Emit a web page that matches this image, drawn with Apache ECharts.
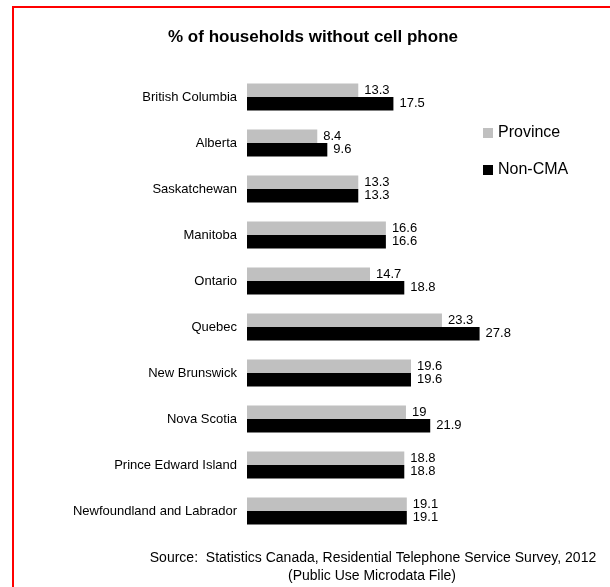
<!DOCTYPE html>
<html>
<head>
<meta charset="utf-8">
<script src="https://cdn.jsdelivr.net/npm/echarts@6/dist/echarts.min.js"></script>
<style>
html,body{margin:0;padding:0;background:#fff;overflow:hidden;}
#chart{width:610px;height:587px;}
</style>
</head>
<body>
<div id="chart"></div>
<script>
const categories = ["British Columbia","Alberta","Saskatchewan","Manitoba","Ontario","Quebec","New Brunswick","Nova Scotia","Prince Edward Island","Newfoundland and Labrador"];
const province = [13.3, 8.4, 13.3, 16.6, 14.7, 23.3, 19.6, 19, 18.8, 19.1];
const nonCMA = [17.5, 9.6, 13.3, 16.6, 18.8, 27.8, 19.6, 21.9, 18.8, 19.1];
const titleText = "% of households without cell phone";
const sourceLines = ["Source:  Statistics Canada, Residential Telephone Service Survey, 2012", "(Public Use Microdata File)"];

const font = "Liberation Sans, Arial, sans-serif";
const chart = echarts.init(document.getElementById('chart'), null, {renderer:'canvas'});
const labelCfg = {show:true, position:'right', distance:6, color:'#000', fontSize:13, fontFamily:font};
chart.setOption({
  animation:false,
  backgroundColor:'#fff',
  title:{text:titleText, left:308, top:24, textAlign:'center',
    textStyle:{fontFamily:font, fontSize:17, fontWeight:'bold', color:'#000'}},
  legend:{orient:'vertical', left:478, top:119, itemWidth:10, itemHeight:10, itemGap:19,
    icon:'rect',
    textStyle:{fontFamily:font, fontSize:16, color:'#000', lineHeight:18},
    data:['Province','Non-CMA']},
  grid:{left:247, top:74, width:251, height:460, containLabel:false},
  xAxis:{type:'value', min:0, max:30, show:false},
  yAxis:{type:'category', data:categories, inverse:true,
    axisLine:{show:false}, axisTick:{show:false},
    axisLabel:{margin:10, color:'#000', fontSize:13, fontFamily:font}},
  series:[
    {name:'Province', type:'bar', data:province, barGap:'0%', barCategoryGap:'41%',
      itemStyle:{color:'#C0C0C0'}, label:labelCfg},
    {name:'Non-CMA', type:'bar', data:nonCMA,
      itemStyle:{color:'#000000'}, label:labelCfg}
  ],
  graphic:[
    {type:'rect', shape:{x:13, y:7, width:640, height:640}, style:{fill:'none', stroke:'#FF0000', lineWidth:2}, silent:true},
    {type:'text', x:373, y:551, style:{text:sourceLines[0], textAlign:'center', fontFamily:font, fontSize:14, fill:'#000'}},
    {type:'text', x:372, y:569, style:{text:sourceLines[1], textAlign:'center', fontFamily:font, fontSize:14, fill:'#000'}}
  ]
});
</script>
</body>
</html>
